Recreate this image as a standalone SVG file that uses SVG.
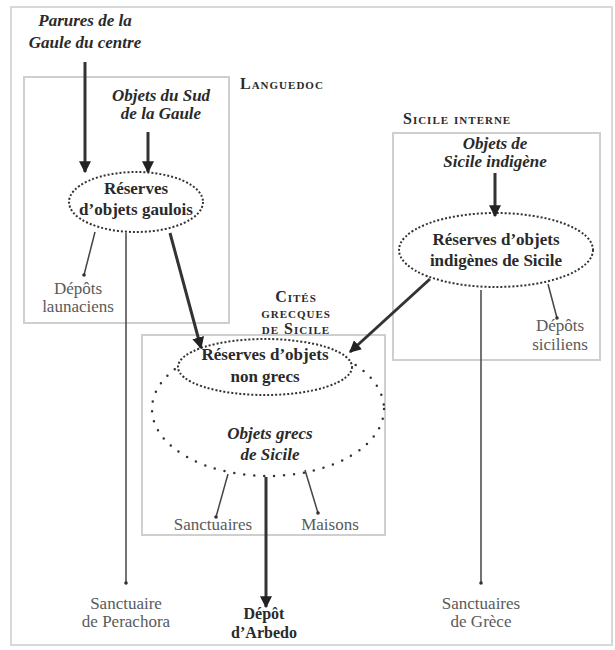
<svg xmlns="http://www.w3.org/2000/svg" width="615" height="650" viewBox="0 0 615 650">
<style>
text{font-family:"Liberation Serif","DejaVu Serif","Times New Roman",serif;font-size:17px;fill:#2a2a2a;text-anchor:middle}
.it{font-style:italic;font-weight:bold}
.b{font-weight:bold}
.g{fill:#5a5a5a}
.sc{font-variant:small-caps;font-weight:bold;font-size:16px;letter-spacing:1px;text-anchor:start}
.box{fill:none;stroke:#cfcfcf;stroke-width:2}
.ell{fill:#fff;stroke:#333;stroke-width:2;stroke-dasharray:2 2}
.thick{stroke:#333;stroke-width:3;fill:none}
.thin{stroke:#444;stroke-width:1.5;fill:none}
</style>
<defs>
<marker id="ah" viewBox="0 0 10 10" refX="9" refY="5" markerWidth="4" markerHeight="4" orient="auto"><path d="M0,0L10,5L0,10z" fill="#222"/></marker>
<marker id="dot" viewBox="0 0 10 10" refX="5" refY="5" markerWidth="3" markerHeight="3"><circle cx="5" cy="5" r="4" fill="#333"/></marker>
</defs>
<rect x="0" y="0" width="615" height="650" fill="#fff"/>
<rect x="11" y="7" width="601" height="638" fill="none" stroke="#d8d8d8" stroke-width="2"/>

<g id="regions">
<rect class="box" x="24" y="77" width="205" height="246"/>
<text class="sc" x="240" y="89">Languedoc</text>
<rect class="box" x="393" y="133" width="207" height="227"/>
<text class="sc" x="403" y="124">Sicile interne</text>
<rect class="box" x="142" y="335" width="243" height="200"/>
<text class="sc" x="296" y="302" style="text-anchor:middle">Cités</text>
<text class="sc" x="296" y="318" style="text-anchor:middle">grecques</text>
<text class="sc" x="296" y="334" style="text-anchor:middle">de Sicile</text>
</g>

<g id="parures">
<text class="it" x="85" y="26">Parures de la</text>
<text class="it" x="85" y="48">Gaule du centre</text>
</g>
<g id="objets-sud">
<text class="it" x="161" y="101">Objets du Sud</text>
<text class="it" x="161" y="119">de la Gaule</text>
</g>
<g id="reserves-gaulois">
<ellipse class="ell" cx="136" cy="202" rx="67" ry="30"/>
<text class="b" x="136" y="194">Réserves</text>
<text class="b" x="136" y="215">d’objets gaulois</text>
</g>
<g id="depots-launaciens">
<text class="g" x="78" y="294">Dépôts</text>
<text class="g" x="78" y="312">launaciens</text>
</g>
<g id="perachora">
<text class="g" x="126" y="609">Sanctuaire</text>
<text class="g" x="126" y="627">de Perachora</text>
</g>
<g id="objets-sicile-indigene">
<text class="it" x="495" y="149">Objets de</text>
<text class="it" x="495" y="167">Sicile indigène</text>
</g>
<g id="reserves-indigenes">
<ellipse class="ell" cx="496" cy="250" rx="97" ry="37"/>
<text class="b" x="496" y="245">Réserves d’objets</text>
<text class="b" x="496" y="266">indigènes  de Sicile</text>
</g>
<g id="depots-siciliens">
<text class="g" x="560" y="331">Dépôts</text>
<text class="g" x="560" y="350">siciliens</text>
</g>
<g id="sanctuaires-grece">
<text class="g" x="481" y="609">Sanctuaires</text>
<text class="g" x="481" y="627">de Grèce</text>
</g>
<g id="objets-grecs">
<ellipse cx="268" cy="409" rx="116" ry="67" fill="none" stroke="#333" stroke-width="2.5" stroke-linecap="round" stroke-dasharray="0 10"/>
<text class="it" x="270" y="439">Objets grecs</text>
<text class="it" x="270" y="460">de Sicile</text>
</g>
<g id="reserves-non-grecs">
<ellipse class="ell" cx="265" cy="367" rx="87" ry="28"/>
<text class="b" x="265" y="360">Réserves d’objets</text>
<text class="b" x="265" y="382">non grecs</text>
</g>
<g id="sanctuaires">
<text class="g" x="213" y="530">Sanctuaires</text>
</g>
<g id="maisons">
<text class="g" x="330" y="530">Maisons</text>
</g>
<g id="arbedo">
<text class="b" x="264" y="619" style="font-size:16px">Dépôt</text>
<text class="b" x="264" y="638" style="font-size:16px">d’Arbedo</text>
</g>

<g id="connectors">
<line class="thick" x1="85" y1="62" x2="85" y2="172" marker-end="url(#ah)"/>
<line class="thick" x1="148" y1="132" x2="148" y2="172" marker-end="url(#ah)"/>
<line class="thick" x1="495" y1="173" x2="495" y2="216" marker-end="url(#ah)"/>
<line class="thick" x1="170" y1="233" x2="201" y2="348" marker-end="url(#ah)"/>
<line class="thick" x1="430" y1="279" x2="350" y2="352" marker-end="url(#ah)"/>
<line class="thick" x1="266" y1="477" x2="266" y2="607" marker-end="url(#ah)"/>
<line class="thin" x1="95" y1="232" x2="84" y2="275" marker-end="url(#dot)"/>
<line class="thin" x1="126" y1="233" x2="126" y2="583" marker-end="url(#dot)"/>
<line class="thin" x1="481" y1="290" x2="481" y2="583" marker-end="url(#dot)"/>
<line class="thin" x1="548" y1="284" x2="557" y2="318" marker-end="url(#dot)"/>
<line class="thin" x1="228" y1="474" x2="216" y2="517" marker-end="url(#dot)"/>
<line class="thin" x1="305" y1="470" x2="318" y2="513" marker-end="url(#dot)"/>
</g>
</svg>
